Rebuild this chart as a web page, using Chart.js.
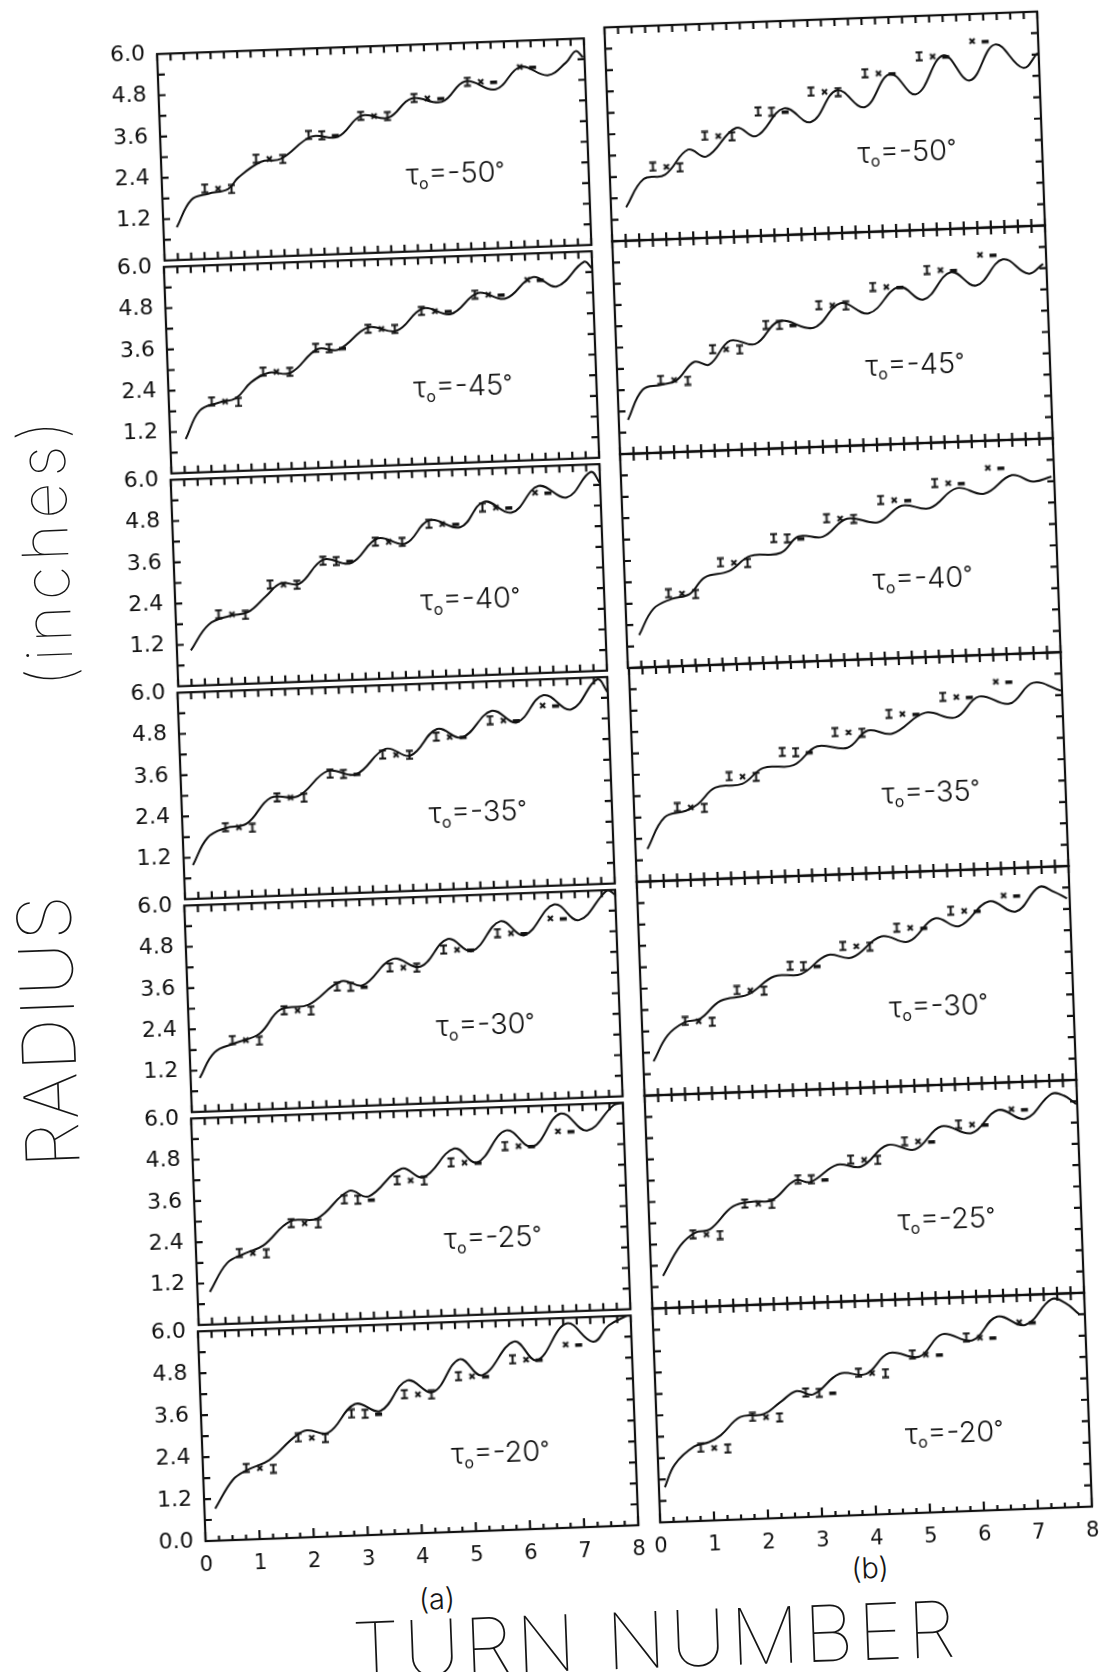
<!DOCTYPE html>
<html>
<head>
<meta charset="utf-8">
<script src="https://cdn.jsdelivr.net/npm/chart.js@4.4.1/dist/chart.umd.min.js"></script>
<style>
  body { margin: 0; background: #fff; }
  #page { position: relative; width: 1099px; height: 1672px; overflow: hidden; background: #fff; }
  #sheet { position: absolute; left: 0; top: 0; width: 1099px; height: 1672px;
           transform: rotate(-2.1deg); transform-origin: 550px 836px; }
  #sheet canvas { position: absolute; }
  .t { position: absolute; white-space: nowrap; color: #151515; line-height: 1;
       font-family: Inter, "DejaVu Sans", sans-serif; font-weight: 100; }
</style>
</head>
<body>
<div id="page"><div id="sheet">
  <div class="t" style="left:41px;top:1012px;font-size:74px;letter-spacing:2px;transform:translate(-50%,-50%) rotate(-90deg)">RADIUS</div>
  <div class="t" style="left:56px;top:533px;font-size:64px;letter-spacing:5px;transform:translate(-50%,-50%) rotate(-90deg)">(inches)</div>
  <div class="t" style="left:626px;top:1643px;font-size:78px;letter-spacing:4px;transform:translate(-50%,-50%)">TURN NUMBER</div>
  <div class="t" style="left:409px;top:1594px;font-size:29px;font-weight:300;transform:translate(-50%,-50%)">(a)</div>
  <div class="t" style="left:843px;top:1579px;font-size:29px;font-weight:300;transform:translate(-50%,-50%)">(b)</div>
</div></div>
<script>
// tau_o values, one per row (top to bottom)
const taus = [-50, -45, -40, -35, -30, -25, -20];

// column (a) curves
const aX50 = [0.25,0.54,0.86,1.24,1.43,1.87,2.25,2.83,3.33,3.78,4.29,4.73,5.3,5.75,6.32,6.79,7.3,7.65,7.84,7.97];
const aY50 = [0.95,1.73,1.89,2.01,2.32,2.76,2.83,3.44,3.41,3.99,3.91,4.44,4.31,4.88,4.62,5.24,4.97,5.32,5.64,5.45];
const aX45 = [0.29,0.57,0.92,1.26,1.55,1.89,2.29,2.81,3.21,3.78,4.3,4.81,5.33,5.85,6.36,6.88,7.33,7.85,8.0];
const aY45 = [0.98,1.79,2.0,2.12,2.56,2.82,2.79,3.45,3.42,4.03,3.9,4.52,4.33,4.91,4.72,5.31,5.02,5.7,5.5];
const aX40 = [0.26,0.61,1.01,1.35,1.7,1.98,2.33,2.79,3.3,3.82,4.33,4.79,5.37,5.82,6.34,6.85,7.37,7.83,8.0];
const aY40 = [1.03,1.76,1.99,2.08,2.53,2.88,2.85,3.52,3.39,4.08,3.9,4.55,4.32,5.03,4.69,5.43,5.07,5.78,5.44];
const aX35 = [0.17,0.46,0.8,1.2,1.66,2.17,2.74,3.26,3.83,4.29,4.8,5.26,5.83,6.29,6.8,7.31,7.81,8.0];
const aY35 = [0.98,1.76,2.02,2.13,2.85,2.87,3.57,3.44,4.15,3.93,4.67,4.4,5.14,4.78,5.54,5.1,5.94,5.55];
const aX30 = [0.17,0.46,0.86,1.31,1.71,2.23,2.86,3.26,3.83,4.34,4.86,5.31,5.85,6.29,6.86,7.31,7.86,8.0];
const aY30 = [0.98,1.71,1.96,2.21,2.88,2.99,3.64,3.5,4.23,3.98,4.75,4.38,5.21,4.78,5.64,5.16,6.0,5.86];
const aX25 = [0.23,0.57,0.91,1.25,1.76,2.27,2.87,3.23,3.86,4.26,4.85,5.26,5.82,6.3,6.84,7.32,7.83,8.0];
const aY25 = [0.95,1.77,2.03,2.24,2.91,2.97,3.73,3.55,4.32,4.05,4.85,4.42,5.32,4.82,5.75,5.23,5.94,6.0];
const aX20 = [0.2,0.55,0.82,1.23,1.7,1.94,2.34,2.85,3.32,3.83,4.3,4.81,5.22,5.83,6.24,6.81,7.29,7.59,7.93];
const aY20 = [0.92,1.73,1.99,2.25,2.87,3.06,2.97,3.76,3.54,4.38,4.02,4.93,4.45,5.38,4.82,5.84,5.29,5.74,6.0];

// column (b) curves
const bX50 = [0.28,0.62,1.02,1.46,1.8,2.36,2.73,3.26,3.75,4.25,4.75,5.24,5.71,6.24,6.71,7.2,7.7,7.98];
const bY50 = [0.94,1.71,1.81,2.49,2.28,3.05,2.8,3.55,3.14,4.0,3.5,4.4,3.81,4.87,4.14,5.12,4.44,4.84];
const bX45 = [0.17,0.46,0.8,1.09,1.43,1.71,2.11,2.57,3.03,3.66,4.17,4.69,5.26,5.71,6.23,6.69,7.2,7.66,7.94];
const bY45 = [0.96,1.79,1.91,2.02,2.52,2.43,3.08,2.96,3.58,3.36,4.02,3.71,4.42,4.04,4.78,4.38,5.09,4.66,4.92];
const bX40 = [0.23,0.51,0.85,1.19,1.48,1.93,2.33,2.9,3.24,3.69,4.15,4.72,5.17,5.68,6.19,6.7,7.22,7.61,7.95];
const bY40 = [0.91,1.63,1.89,2.01,2.46,2.61,3.01,3.07,3.51,3.48,3.96,3.83,4.27,4.17,4.7,4.52,5.01,4.81,4.93];
const bX35 = [0.22,0.56,0.96,1.18,1.52,2.02,2.42,2.98,3.43,3.99,4.38,4.83,5.45,6.01,6.46,7.02,7.47,7.98];
const bY35 = [0.91,1.78,1.94,2.11,2.56,2.64,3.06,3.11,3.61,3.54,4.0,3.89,4.44,4.28,4.84,4.61,5.17,4.92];
const bX30 = [0.19,0.47,0.8,1.08,1.47,1.98,2.48,2.98,3.48,3.93,4.49,4.99,5.49,5.94,6.5,7.0,7.44,7.72,7.95];
const bY30 = [0.95,1.67,2.02,2.1,2.58,2.73,3.21,3.25,3.75,3.66,4.22,4.05,4.67,4.43,5.09,4.78,5.44,5.29,5.09];
const bX25 = [0.22,0.56,0.84,1.12,1.56,1.95,2.29,2.73,3.01,3.52,3.96,4.46,4.97,5.47,6.03,6.53,7.03,7.53,7.76,7.98];
const bY25 = [0.91,1.74,2.09,2.17,2.79,2.91,2.93,3.46,3.4,3.86,3.78,4.36,4.21,4.83,4.61,5.23,4.96,5.63,5.57,5.32];
const bX20 = [0.11,0.31,0.68,0.96,1.18,1.55,1.99,2.3,2.61,2.92,3.42,3.91,4.35,4.91,5.34,5.9,6.37,6.89,7.39,7.64,7.89];
const bY20 = [0.98,1.61,2.09,2.2,2.38,2.87,2.93,3.24,3.54,3.43,3.98,3.95,4.51,4.38,4.98,4.78,5.42,5.16,5.85,5.74,5.41];

// measured points (same in every panel)
const markX = [0.8,1.05,1.3, 1.78,2.03,2.28, 2.78,3.03,3.28, 3.77,4.02,4.27, 4.78,5.03,5.28, 5.79,6.04,6.28, 6.78,7.02];
const markY = [2.05,2.03,2.0, 2.86,2.84,2.82, 3.49,3.47,3.45, 3.99,3.97,3.95, 4.45,4.43,4.41, 4.87,4.85,4.83, 5.24,5.22];
const markKind = ['I','x','I', 'I','x','I', 'I','I','s', 'I','x','I', 'I','x','s', 'I','x','s', 'x','s'];

const xMinorStep = 0.25, yMinorStep = 0.6;
const ink = '#111';

const curves = [
  [[aX50,aY50],[aX45,aY45],[aX40,aY40],[aX35,aY35],[aX30,aY30],[aX25,aY25],[aX20,aY20]],
  [[bX50,bY50],[bX45,bY45],[bX40,bY40],[bX35,bY35],[bX30,bY30],[bX25,bY25],[bX20,bY20]]
];

// plot boxes on the (unrotated) sheet; column (a) widens a little towards the bottom
const cols = [
  {leftTop: 187, leftBottom: 179, right: 613, top: 37, ph: 213.0, lm: 62},
  {leftTop: 634, leftBottom: 635, right: 1067, top: 30, ph: 213.7, lm: 14}
];

function glyph(kind) {
  const c = document.createElement('canvas');
  c.width = 9; c.height = 11;
  const g = c.getContext('2d');
  g.strokeStyle = ink; g.fillStyle = ink; g.lineWidth = 2;
  g.beginPath();
  if (kind === 'I') {
    g.moveTo(1, 1.5); g.lineTo(8, 1.5);
    g.moveTo(4.5, 1.5); g.lineTo(4.5, 9.5);
    g.moveTo(1, 9.5); g.lineTo(8, 9.5);
  } else if (kind === 'x') {
    g.moveTo(2, 3); g.lineTo(7, 8);
    g.moveTo(7, 3); g.lineTo(2, 8);
  } else {
    g.fillRect(1, 4, 7, 3.5);
  }
  g.stroke();
  return c;
}
const glyphs = {I: glyph('I'), x: glyph('x'), s: glyph('s')};

const framePlugin = {
  id: 'frame',
  afterDraw(chart, args, o) {
    const {ctx, chartArea: a, scales: {x, y}} = chart;
    ctx.save();
    ctx.strokeStyle = ink;
    ctx.lineWidth = 2.2;
    ctx.strokeRect(a.left, a.top, a.right - a.left, a.bottom - a.top);
    ctx.beginPath();
    for (let v = 0; v <= 8.0001; v += xMinorStep) {
      const px = x.getPixelForValue(v);
      const major = Math.abs(v - Math.round(v)) < 1e-6;
      const up = o.bottom ? (major ? 9 : 5) : 7;
      ctx.moveTo(px, a.top); ctx.lineTo(px, a.top + 7);
      ctx.moveTo(px, a.bottom); ctx.lineTo(px, a.bottom - up);
    }
    for (let v = yMinorStep; v < 5.99; v += yMinorStep) {
      const py = y.getPixelForValue(v);
      ctx.moveTo(a.left, py); ctx.lineTo(a.left + 7, py);
      ctx.moveTo(a.right, py); ctx.lineTo(a.right - 7, py);
    }
    ctx.stroke();

    // tau_o label
    const cx = x.getPixelForValue(5.5), cy = y.getPixelForValue(2.18);
    const fam = 'Inter, "DejaVu Sans", sans-serif';
    const big = '300 29px ' + fam;
    const parts = [
      {t: '\u03c4', f: big, dy: 0},
      {t: 'o', f: '400 16px ' + fam, dy: 8},
      {t: '=-' + Math.abs(o.tau), f: big, dy: 0},
      {t: '\u00b0', f: '400 20px ' + fam, dy: -3}
    ];
    let w = 0;
    parts.forEach(p => { ctx.font = p.f; p.w = ctx.measureText(p.t).width; w += p.w; });
    let px = cx - w / 2;
    ctx.fillStyle = ink;
    ctx.textBaseline = 'middle';
    parts.forEach(p => { ctx.font = p.f; ctx.fillText(p.t, px, cy + p.dy); px += p.w; });
    ctx.restore();
  }
};

const sheet = document.getElementById('sheet');
const yFont = {family: '"DejaVu Sans", sans-serif', size: 22};
const xFont = {family: '"DejaVu Sans", sans-serif', size: 21};

cols.forEach((col, c) => {
  taus.forEach((tau, r) => {
    const pTop = Math.round(col.top + r * col.ph);
    const pBot = Math.round(col.top + (r + 1) * col.ph);
    const left = Math.round(col.leftTop + (col.leftBottom - col.leftTop) * (r + 0.5) / taus.length);
    const width = col.right - left;
    const isBottom = r === taus.length - 1;
    const tm = 14, rm = 14, bm = isBottom ? 36 : 14;
    const cv = document.createElement('canvas');
    cv.width = col.lm + width + rm;
    cv.height = tm + (pBot - pTop) + bm;
    cv.style.left = (left - col.lm) + 'px';
    cv.style.top = (pTop - tm) + 'px';
    sheet.appendChild(cv);

    const [xs, ys] = curves[c][r];
    new Chart(cv, {
      type: 'scatter',
      data: {
        datasets: [
          {
            data: xs.map((v, i) => ({x: v, y: ys[i]})),
            showLine: true, borderColor: ink, borderWidth: 2,
            pointRadius: 0, tension: 0.4
          },
          {
            data: markX.map((v, i) => ({x: v, y: markY[i]})),
            showLine: false,
            pointStyle: ctx => glyphs[markKind[ctx.dataIndex]],
            pointRadius: 5
          }
        ]
      },
      options: {
        responsive: false,
        animation: false,
        events: [],
        layout: {padding: {top: tm, right: rm, left: 0, bottom: 0}},
        plugins: {legend: {display: false}, tooltip: {enabled: false}, frame: {tau: tau, bottom: isBottom}},
        scales: {
          x: {
            type: 'linear', min: 0, max: 8,
            grid: {display: false}, border: {display: false},
            ticks: {display: isBottom, stepSize: 1, color: ink, font: xFont, padding: 4, maxRotation: 0},
            afterFit: s => { s.height = bm; }
          },
          y: {
            min: 0, max: 6,
            grid: {display: false}, border: {display: false},
            ticks: {
              display: c === 0, stepSize: 1.2, color: ink, font: yFont, padding: 4,
              callback: v => (v === 0 && !isBottom) ? '' : v.toFixed(1)
            },
            afterFit: s => { s.width = col.lm; }
          }
        }
      },
      plugins: [framePlugin]
    });
  });
});
</script>
</body>
</html>
